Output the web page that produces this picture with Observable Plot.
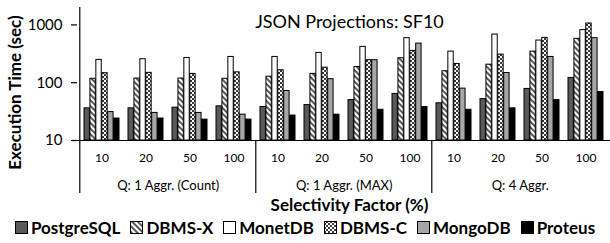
<!DOCTYPE html>
<html><head><meta charset="utf-8">
<script src="https://cdn.jsdelivr.net/npm/d3@7"></script>
<script src="https://cdn.jsdelivr.net/npm/@observablehq/plot@0.6"></script>
<style>
body{margin:0;background:#fff;font-family:Lato,"Open Sans",sans-serif;}
#chart{width:610px;height:243px;overflow:hidden;}
#chart svg{display:block;}
.legend{display:flex;justify-content:center;align-items:center;height:26px;font-weight:bold;font-size:17px;line-height:17px;color:#000;white-space:nowrap;}
.legend .item{display:flex;align-items:center;margin:0 5px;}
.legend svg{margin-right:3px;}
</style></head>
<body><div id="chart"></div>
<script>
// ---- data ----
const groups = ["Q: 1 Aggr. (Count)", "Q: 1 Aggr. (MAX)", "Q: 4 Aggr."];
const selectivities = ["10", "20", "50", "100"];
const systems = ["PostgreSQL", "DBMS-X", "MonetDB", "DBMS-C", "MongoDB", "Proteus"];
// execution time (sec), ordered group by group, selectivity 10,20,50,100
const postgresql = [36, 36, 37, 39,   38, 41, 50, 64,    44, 52, 78, 121];
const dbmsX      = [117, 118, 118, 117, 127, 142, 187, 265, 158, 205, 345, 574];
const monetdb    = [248, 255, 268, 279, 279, 328, 417, 590, 345, 681, 536, 813];
const dbmsC      = [146, 148, 142, 151, 164, 182, 245, 355, 211, 306, 597, 1057];
const mongodb    = [31, 30, 30, 28,   72, 115, 245, 475,  79, 147, 279, 590];
const proteus    = [24, 24, 23, 23,   27, 28, 34, 38,     34, 36, 50, 69];
const yTicks = [10, 100, 1000];
const yDomain = [10, 2000];
const title = "JSON Projections: SF10";
const xTitle = "Selectivity Factor (%)";
const yTitle = "Execution Time (sec)";

const seriesValues = [postgresql, dbmsX, monetdb, dbmsC, mongodb, proteus];
const fills = ["#595959", "url(#hatchX)", "#ffffff", "url(#checkC)", "#a6a6a6", "#000000"];

const keyOf = (g, s) => g + "|" + s;
const keys = [];
groups.forEach(g => selectivities.forEach(s => keys.push(keyOf(g, s))));
const tables = systems.map((sys, j) => keys.map((k, i) => ({key: k, system: sys, value: seriesValues[j][i]})));

// ---- layout ----
const W = 610, H = 214, ML = 77, MR = 0, MT = 7, MB = 74;
const PI = 0.2, PO = 0.1;
const step = (W - ML - MR) / (keys.length - PI + 2 * PO);
const bw = step * (1 - PI);
const b = bw / systems.length;
const frameH = H - MT - MB;

const barMarks = tables.map((t, j) => Plot.barY(t, {
  x: "key", y1: yDomain[0], y2: "value", fill: fills[j], stroke: "#000", strokeWidth: 1,
  insetLeft: j * b, insetRight: (systems.length - 1 - j) * b
}));

const svg = Plot.plot({
  width: W, height: H,
  marginLeft: ML, marginRight: MR, marginTop: MT, marginBottom: MB,
  style: {fontFamily: "Lato, 'Open Sans', sans-serif", color: "#000", background: "#fff", overflow: "visible"},
  x: {domain: keys, paddingInner: PI, paddingOuter: PO, axis: null},
  y: {type: "log", domain: yDomain, axis: null},
  marks: [
    ...barMarks,
    Plot.ruleY([yDomain[0]], {stroke: "#000", strokeWidth: 1.2}),
    // y axis line + group separators
    Plot.ruleX([keys[0]], {dx: -step / 2, insetBottom: -53, stroke: "#000", strokeWidth: 1.2}),
    Plot.ruleX(groups.slice(1).map(g => keyOf(g, selectivities[0])), {dx: -step / 2, insetTop: frameH, insetBottom: -53, stroke: "#000", strokeWidth: 1.2}),
    Plot.axisY({anchor: "left", ticks: yTicks, tickFormat: d => String(d), tickSize: 6, tickPadding: 9, fontSize: 15, label: null, strokeWidth: 1.2}),
    Plot.axisX({anchor: "bottom", tickFormat: k => k.split("|")[1], tickSize: 0, tickPadding: 13, fontSize: 12, label: null}),
    Plot.axisX({anchor: "bottom", ticks: groups.map(g => keyOf(g, selectivities[1])), tickFormat: k => k.split("|")[0], tickSize: 0, tickPadding: 40, dx: step / 2, fontSize: 13, label: null}),
    Plot.text([yTitle], {frameAnchor: "left", rotate: -90, dx: -62, dy: 18.5, textAnchor: "middle", lineAnchor: "middle", fontSize: 17, fontWeight: "bold"}),
    Plot.text([title], {frameAnchor: "top", dx: 5.5, dy: 15, textAnchor: "middle", lineAnchor: "middle", fontSize: 18}),
    Plot.text([xTitle], {frameAnchor: "bottom", dx: 5.5, dy: 65, textAnchor: "middle", lineAnchor: "middle", fontSize: 17, fontWeight: "bold"})
  ]
});

const defs = `
<pattern id="hatchX" width="4" height="4" patternUnits="userSpaceOnUse" patternTransform="rotate(-45)">
  <rect width="4" height="4" fill="#fff"/><rect width="2" height="4" fill="#595959"/>
</pattern>
<pattern id="checkC" width="4" height="4" patternUnits="userSpaceOnUse">
  <rect width="4" height="4" fill="#3a3a3a"/><rect width="2" height="2" fill="#fff"/><rect x="2" y="2" width="2" height="2" fill="#fff"/>
</pattern>`;
d3.select(svg).insert("defs", ":first-child").html(defs);

const chart = document.getElementById("chart");
chart.appendChild(svg);

// legend
const legend = d3.select(chart).append("div").attr("class", "legend");
systems.forEach((sys, j) => {
  const item = legend.append("div").attr("class", "item");
  const sw = item.append("svg").attr("width", 13).attr("height", 13);
  sw.append("rect").attr("x", 0.5).attr("y", 0.5).attr("width", 12).attr("height", 12)
    .attr("fill", fills[j]).attr("stroke", "#000").attr("stroke-width", 1);
  item.append("span").text(sys);
});
</script>
</body></html>
